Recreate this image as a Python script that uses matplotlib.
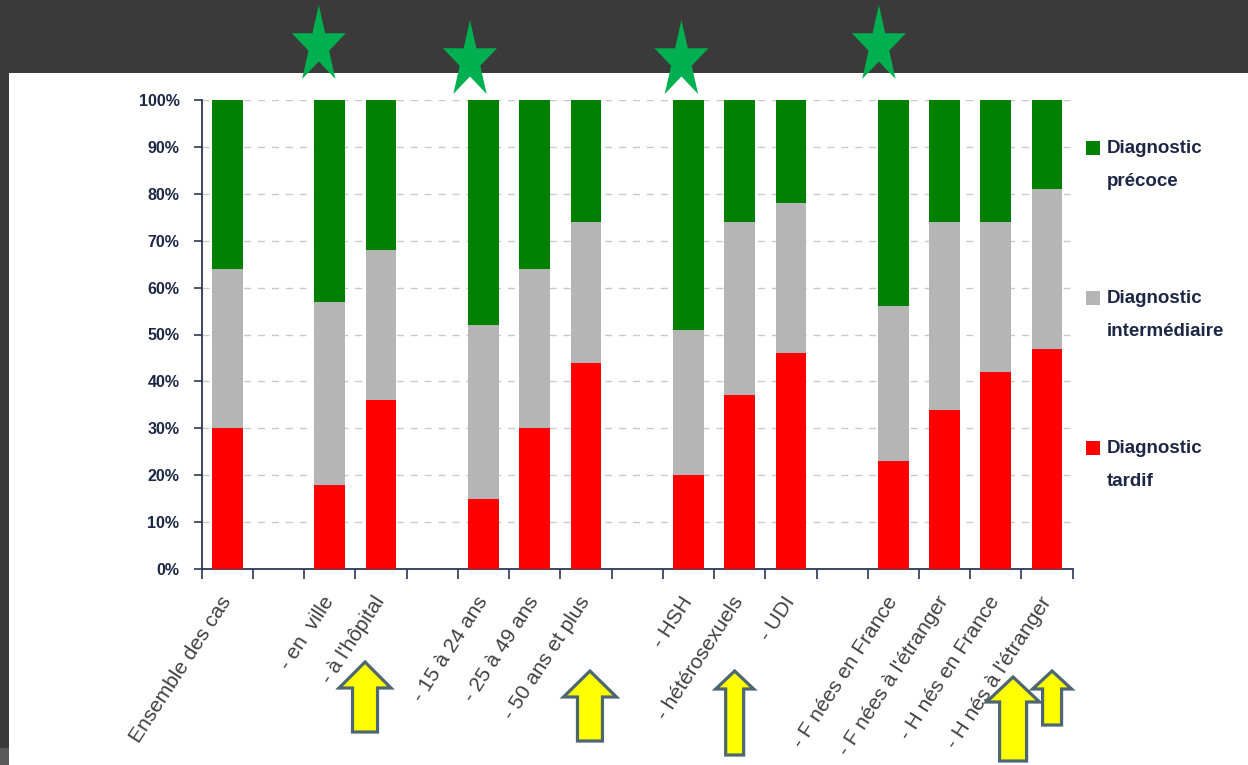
import matplotlib
matplotlib.use("Agg")
import matplotlib.pyplot as plt
import numpy as np
from matplotlib.patches import Rectangle, Polygon

# ---------------- data ----------------
categories = [
    "Ensemble des cas",
    "- en  ville", "- à l'hôpital",
    "- 15 à 24 ans", "- 25 à 49 ans", "- 50 ans et plus",
    "- HSH", "- hétérosexuels", "- UDI",
    "- F nées en France", "- F nées à l'étranger", "- H nés en France", "- H nés à l'étranger",
]
group_sizes = [1, 2, 3, 3, 4]
tardif = [30, 18, 36, 15, 30, 44, 20, 37, 46, 23, 34, 42, 47]
intermediaire = [34, 39, 32, 37, 34, 30, 31, 37, 32, 33, 40, 32, 34]
precoce = [36, 43, 32, 48, 36, 26, 49, 26, 22, 44, 26, 26, 19]
series_names = ["Diagnostic\nprécoce", "Diagnostic\nintermédiaire", "Diagnostic\ntardif"]
y_ticks = [0, 10, 20, 30, 40, 50, 60, 70, 80, 90, 100]
y_ticklabels = ["0%", "10%", "20%", "30%", "40%", "50%", "60%", "70%", "80%", "90%", "100%"]
starred = ["- en  ville", "- 15 à 24 ans", "- HSH", "- F nées en France"]

# ---------------- style ----------------
W, H = 1248, 765
C_RED, C_GRAY, C_GREEN = "#ff0000", "#b5b5b5", "#008000"
C_NAVY = "#1d2745"
C_STAR = "#00b050"
C_ARROW, C_ARROW_EDGE = "#ffff00", "#4d6672"
FONT = "Liberation Sans"
plt.rcParams["font.family"] = [FONT, "DejaVu Sans"]

fig = plt.figure(figsize=(W / 100, H / 100), dpi=100, facecolor="#3a3a3a")
fig.patches.append(Rectangle((9 / W, 0), 1, 1 - 73 / H, transform=fig.transFigure,
                             facecolor="white", edgecolor="none", zorder=-10))
fig.patches.append(Rectangle((0, 0), 9 / W, 17 / H, transform=fig.transFigure,
                             facecolor="#5a5a5a", edgecolor="none", zorder=-10))

ax = fig.add_axes([201.7 / W, 1 - 569 / H, 871 / W, 469 / H])
ax.set_facecolor("none")

# positions with a gap slot between groups
pos = []
slot = 0
for gi, n in enumerate(group_sizes):
    if gi > 0:
        slot += 1
    for _ in range(n):
        pos.append(slot)
        slot += 1
pos = np.array(pos)
n_slots = slot

t = np.array(tardif)
m = np.array(intermediaire)
p = np.array(precoce)
bw = 0.6
ax.bar(pos, t, width=bw, color=C_RED, zorder=3)
ax.bar(pos, m, width=bw, bottom=t, color=C_GRAY, zorder=3)
ax.bar(pos, p, width=bw, bottom=t + m, color=C_GREEN, zorder=3)

ax.set_xlim(-0.5, n_slots - 0.5)
ax.set_ylim(0, 100)
for s in ["top", "right"]:
    ax.spines[s].set_visible(False)
for s in ["left", "bottom"]:
    ax.spines[s].set_color("#2c3656")
    ax.spines[s].set_linewidth(1.3)

ax.set_yticks(y_ticks)
ax.set_yticklabels(y_ticklabels, fontsize=11.5, fontweight="bold", color=C_NAVY)
ax.tick_params(axis="y", length=6, width=1.2, color="#2c3656", pad=10)
ax.yaxis.grid(True, linestyle=(0, (5, 5)), color="#c9c9c9", linewidth=1)
ax.set_axisbelow(True)

ax.set_xticks(np.arange(-0.5, n_slots, 1.0))
ax.set_xticklabels([])
ax.tick_params(axis="x", which="major", length=7, width=1.2, color="#2c3656")
ax.set_xticks(pos, minor=True)
ax.set_xticklabels(categories, minor=True, fontsize=15, color="#404040",
                   rotation=57, ha="right", va="center", rotation_mode="anchor")
ax.tick_params(axis="x", which="minor", length=0, pad=21)

# ---------------- legend ----------------
leg_y = [148, 298, 448]
for name, col, yc in zip(series_names, [C_GREEN, C_GRAY, C_RED], leg_y):
    fig.patches.append(Rectangle((1086 / W, 1 - (yc + 7) / H), 14 / W, 14 / H,
                                 transform=fig.transFigure, facecolor=col,
                                 edgecolor="none", zorder=5))
    for k, line in enumerate(name.split("\n")):
        fig.text(1107 / W, 1 - (yc + 5 + 33 * k) / H, line, fontsize=13.5,
                 fontweight="bold", color=C_NAVY, va="baseline", ha="left")

# ---------------- decorations (stars & arrows) ----------------
def slot_px(label):
    i = categories.index(label)
    return ax.transData.transform((pos[i], 0))[0]

def star(cx, ytop, ybot, w):
    ang = np.deg2rad(90 + np.arange(10) * 36)
    r = np.where(np.arange(10) % 2 == 0, 1.0, 0.382)
    x = r * np.cos(ang)
    y = r * np.sin(ang)
    hgt = ybot - ytop
    px = cx + x / 1.902 * w
    py = ybot - (y + 0.809) / 1.809 * hgt
    pts = np.column_stack([px / W, 1 - py / H])
    fig.patches.append(Polygon(pts, closed=True, transform=fig.transFigure,
                               facecolor=C_STAR, edgecolor="none", zorder=10))

star_specs = [(-11, 5, 79), (-13.5, 20, 94), (-7, 20, 94), (-14.5, 5, 79)]
for lab, (dx, yt, yb) in zip(starred, star_specs):
    star(slot_px(lab) + dx, yt, yb, 54)

def arrow(cx, top, base, bottom, hw, sw):
    pts = [(cx - sw / 2, bottom), (cx - sw / 2, base), (cx - hw / 2, base), (cx, top),
           (cx + hw / 2, base), (cx + sw / 2, base), (cx + sw / 2, bottom)]
    pts = [(x / W, 1 - y / H) for x, y in pts]
    fig.patches.append(Polygon(pts, closed=True, transform=fig.transFigure,
                               facecolor=C_ARROW, edgecolor=C_ARROW_EDGE,
                               linewidth=2.3, joinstyle="miter", zorder=10))

arrow_specs = [
    ("- à l'hôpital", -16, 662, 688, 732, 52, 25),
    ("- 50 ans et plus", 4, 671, 697, 741, 53, 25),
    ("- hétérosexuels", -5, 671, 689, 755, 38, 18),
    ("- H nés à l'étranger", -34, 677, 702, 761, 53, 27),
    ("- H nés à l'étranger", 5, 671, 689, 725, 39, 19),
]
for lab, dx, top, base, bottom, hw, sw in arrow_specs:
    arrow(slot_px(lab) + dx, top, base, bottom, hw, sw)

fig.savefig("out.png", dpi=100, facecolor=fig.get_facecolor())
